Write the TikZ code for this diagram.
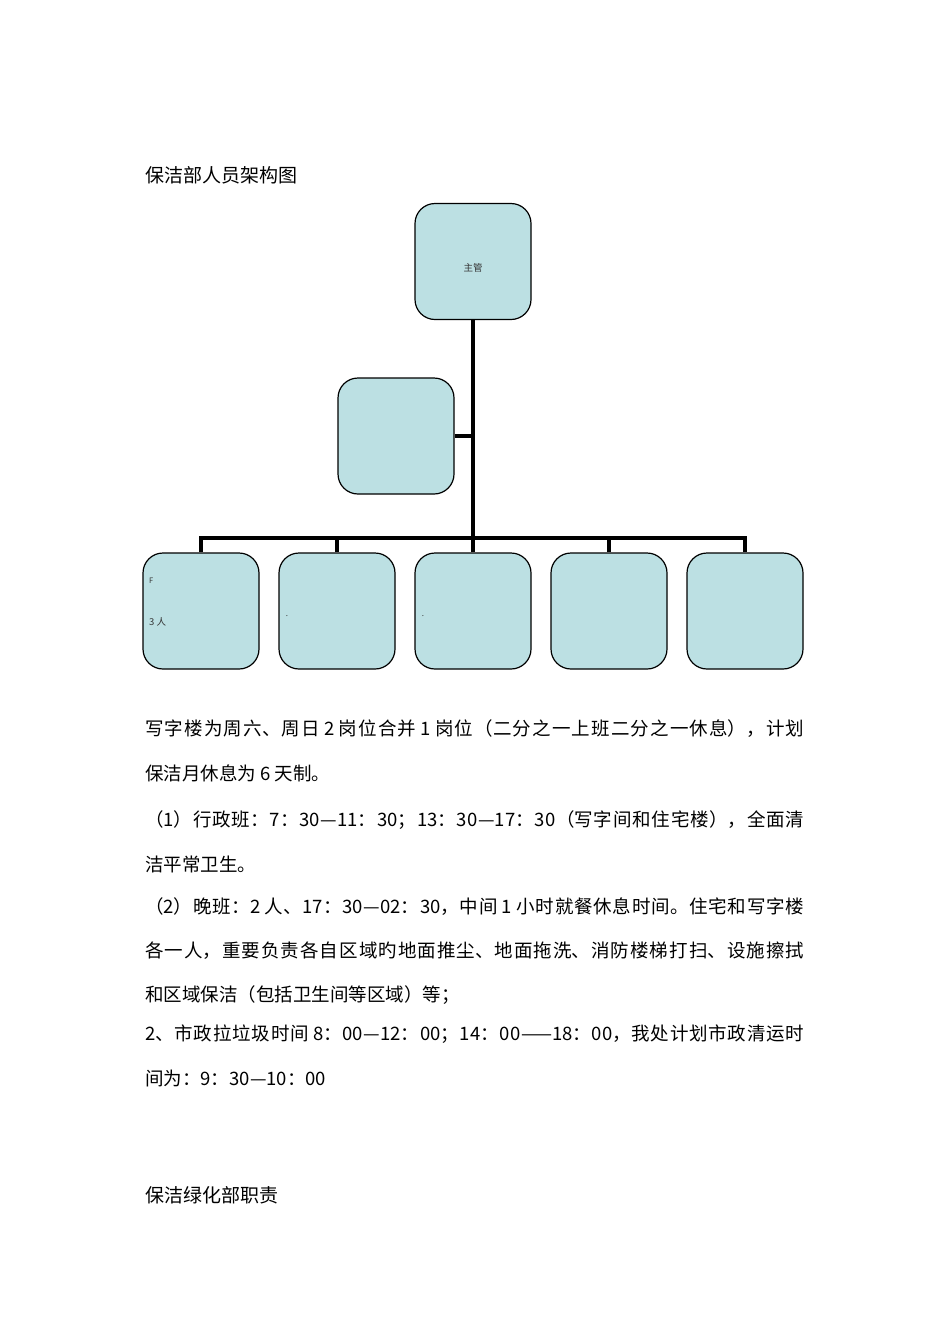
\documentclass[tikz,border=0pt]{standalone}
\usepackage{fontspec}
\usepackage{tikz}
\setmainfont{Noto Sans CJK SC}
\XeTeXlinebreaklocale "zh"
\XeTeXlinebreakskip = 0pt plus 12pt minus 1.5pt
\definecolor{postfill}{HTML}{BCE0E3}
\newcommand{\fullline}[1]{\parindent=0pt\parfillskip=0pt\relax #1\par}

\begin{document}
\begin{tikzpicture}[
            x = 1pt, y = -1pt, % one unit per pixel of the page
            node distance = 136pt, % distance between the lower boxes
            line join = miter
        ]

        \tikzstyle{post}=[
            draw = black,
            line width = 1.2pt,
            fill = postfill,
            rounded corners = 20pt,
            minimum size = 116pt,
            inner sep = 0pt
        ]
        \tikzstyle{branch}=[draw = black, line width = 3.8pt]
        \tikzstyle{para}=[anchor = west, inner sep = 0pt, font = \fontsize{18.5}{22}\selectfont]
        \tikzstyle{fullpara}=[para, text width = 659pt, align = justify]
        \tikzstyle{head}=[anchor = west, inner sep = 0pt, font = \fontsize{19}{22}\selectfont]
        \tikzstyle{tiny}=[inner sep = 0pt, text = black!80]

        \fill[white] (0,0) rectangle (950,1344);
        \useasboundingbox (0,0) rectangle (950,1344);

        \node[head] (title) at (145,175) {保洁部人员架构图};

        \node[post] (boss) at (473,261.5) {};
        \node[tiny, font = \fontsize{9.5}{11}\selectfont] (bosstext) at (473,268) {主管};
        \node[post] (assist) at (396,436) {};

        \node[post] (team1) at (201,611) {};
        \node[post] (team2) [right of=team1] {};
        \node[post] (team3) [right of=team2] {};
        \node[post] (team4) [right of=team3] {};
        \node[post] (team5) [right of=team4] {};

        \node[tiny, anchor = west, font = \fontsize{7.5}{9}\selectfont] (team1f) at (149,581) {F};
        \node[tiny, anchor = west, font = \fontsize{9.5}{11}\selectfont] (team1n) at (149,622) {3 人};
        \node[tiny, font = \fontsize{8}{9}\selectfont] (team2dot) at (287,616) {.};
        \node[tiny, font = \fontsize{8}{9}\selectfont] (team3dot) at (423,616) {.};

        \coordinate (hub) at (473,538);

        \draw[branch] (boss) -- (hub);
        \draw[branch] (assist.east) -- (assist.east -| hub);
        \draw[branch] (team1.north) |- (hub) -| (team5.north);
        \foreach \i in {2,3,4}
            \draw[branch] (team\i.north) -- (team\i.north |- hub);

        \node[fullpara] (line1) at (145,729) {\fullline{写字楼为周六、周日 2 岗位合并 1 岗位（二分之一上班二分之一休息），计划}};
        \node[para] (line2) at (145,773) {保洁月休息为 6 天制。};
        \node[fullpara] (line3) at (145,820) {\fullline{（1）行政班：7：30—11：30；13：30—17：30（写字间和住宅楼），全面清}};
        \node[para] (line4) at (145,864) {洁平常卫生。};
        \node[fullpara] (line5) at (145,907) {\fullline{（2）晚班：2 人、17：30—02：30，中间 1 小时就餐休息时间。住宅和写字楼}};
        \node[fullpara] (line6) at (145,951) {\fullline{各一人，重要负责各自区域旳地面推尘、地面拖洗、消防楼梯打扫、设施擦拭}};
        \node[para] (line7) at (145,995) {和区域保洁（包括卫生间等区域）等；};
        \node[fullpara] (line8) at (145,1034) {\fullline{2、市政拉垃圾时间 8：00—12：00；14：00——18：00，我处计划市政清运时}};
        \node[para] (line9) at (145,1078) {间为：9：30—10：00};

        \node[head] (foot) at (145,1195) {保洁绿化部职责};

    \end{tikzpicture}
\end{document}
